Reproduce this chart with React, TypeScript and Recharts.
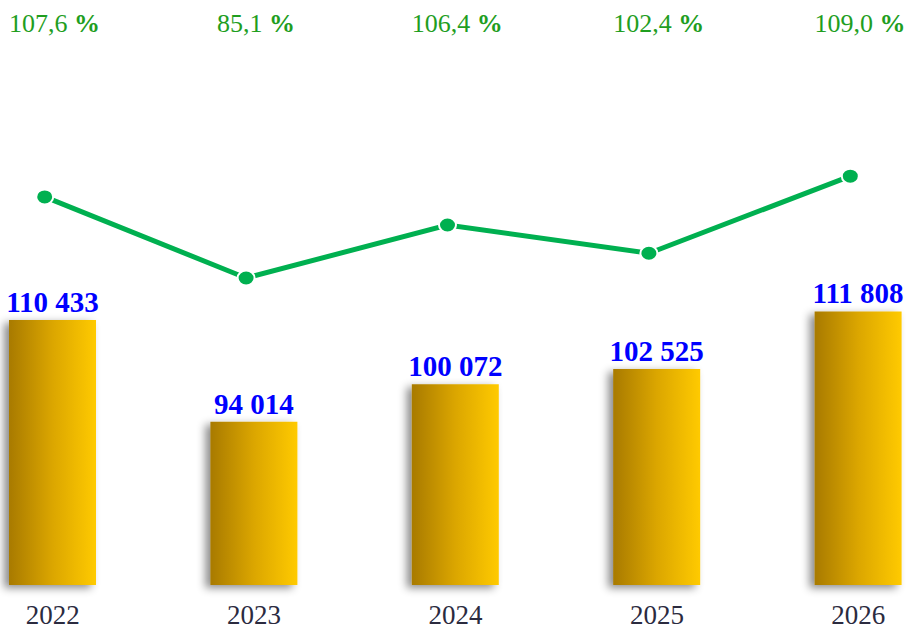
import {
  Bar,
  ComposedChart,
  LabelList,
  Line,
  XAxis,
  YAxis,
} from "recharts";

const years = ["2022", "2023", "2024", "2025", "2026"];
const volumes = [110433, 94014, 100072, 102525, 111808];
const growthPct = [107.6, 85.1, 106.4, 102.4, 109.0];
// line level as drawn in the picture (relative scale 0-100)
const lineLevel = [67.5, 53.4, 62.6, 57.7, 71.1];

const data = years.map((year, i) => ({
  year,
  volume: volumes[i],
  pct: growthPct[i],
  level: lineLevel[i],
}));

const serif = "'Liberation Serif', 'Times New Roman', serif";

const fmtNum = (n: number) => String(n).replace(/\B(?=(\d{3})+(?!\d))/g, " ");
const fmtPct = (n: number) => n.toFixed(1).replace(".", ",");

function Dot(props: any) {
  const { cx, cy } = props;
  if (cx == null || cy == null) return null;
  return (
    <ellipse cx={cx} cy={cy} rx={8.5} ry={7.5} fill="#00b050" stroke="#fff" strokeWidth={2} />
  );
}

function PctLabel(props: any) {
  const { x, width, value } = props;
  return (
    <text
      x={x + width / 2 + 2}
      y={32}
      textAnchor="middle"
      fill="#1f9e1f"
      fontFamily={serif}
      fontSize={26}
    >
      {fmtPct(value)} <tspan fontWeight="bold">%</tspan>
    </text>
  );
}

function VolLabel(props: any) {
  const { x, y, width, value } = props;
  return (
    <text
      x={x + width / 2}
      y={y - 8}
      textAnchor="middle"
      fill="#0000ff"
      fontFamily={serif}
      fontWeight="bold"
      fontSize={29}
    >
      {fmtNum(value)}
    </text>
  );
}

export default function App() {
  return (
    <div style={{ position: "absolute", left: 0, top: 0, background: "#fff" }}>
      <ComposedChart
        width={915}
        height={630}
        data={data}
        margin={{ top: 10, right: -44, bottom: 0, left: -48 }}
        barCategoryGap={57}
      >
        <defs>
          <linearGradient id="goldGrad" x1="0" y1="0" x2="1" y2="0">
            <stop offset="0%" stopColor="#a87a00" />
            <stop offset="50%" stopColor="#dba600" />
            <stop offset="100%" stopColor="#ffca00" />
          </linearGradient>
          <filter id="barShadow" x="-30%" y="-10%" width="150%" height="130%">
            <feDropShadow dx={-5} dy={3} stdDeviation={4} floodColor="#000" floodOpacity={0.45} />
          </filter>
        </defs>
        <XAxis
          dataKey="year"
          axisLine={false}
          tickLine={false}
          tickSize={0}
          tickMargin={20}
          height={45}
          tick={{ fill: "#2b2b3f", fontFamily: serif, fontSize: 27 }}
          interval={0}
        />
        <XAxis xAxisId="l" dataKey="year" hide padding={{ left: -8, right: 8 }} />
        <YAxis yAxisId="v" hide domain={[67700, 160400]} />
        <YAxis yAxisId="p" hide domain={[0, 100]} />
        <Bar
          yAxisId="v"
          dataKey="volume"
          fill="url(#goldGrad)"
          filter="url(#barShadow)"
          isAnimationActive={false}
        >
          <LabelList dataKey="volume" content={<VolLabel />} />
          <LabelList dataKey="pct" content={<PctLabel />} />
        </Bar>
        <Line
          yAxisId="p"
          xAxisId="l"
          dataKey="level"
          stroke="#00b050"
          strokeWidth={5}
          dot={<Dot />}
          activeDot={false}
          isAnimationActive={false}
        />
      </ComposedChart>
    </div>
  );
}
